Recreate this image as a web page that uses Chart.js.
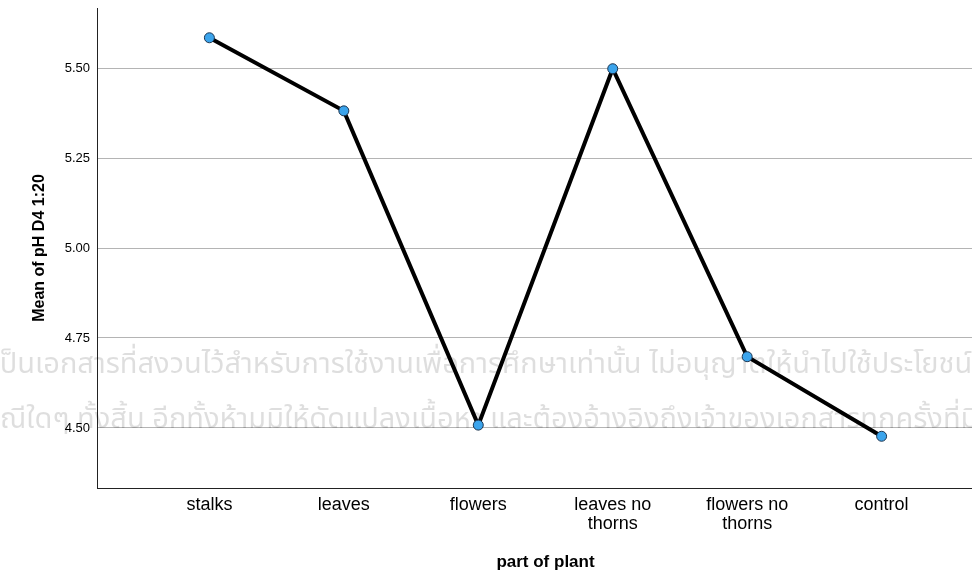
<!DOCTYPE html>
<html>
<head>
<meta charset="utf-8">
<script src="https://cdn.jsdelivr.net/npm/chart.js@4.4.1/dist/chart.umd.min.js"></script>
<style>
  html, body { margin: 0; padding: 0; background: #fff; overflow: hidden; }
  #wrap { width: 1000px; height: 573px; }
</style>
</head>
<body>
<div id="wrap"><canvas id="myChart" width="1000" height="573"></canvas></div>
<script>
// chart values
const categories = [['stalks'], ['leaves'], ['flowers'], ['leaves no', 'thorns'], ['flowers no', 'thorns'], ['control']];
const meanPH = [5.584, 5.381, 4.508, 5.498, 4.698, 4.477];
const yTicks = [4.50, 4.75, 5.00, 5.25, 5.50];
const watermarkLines = [
  'เป็นเอกสารที่สงวนไว้สำหรับการใช้งานเพื่อการศึกษาเท่านั้น ไม่อนุญาตให้นำไปใช้ประโยชน์ในกรณีอื่น',
  'กรณีใดๆ ทั้งสิ้น อีกทั้งห้ามมิให้ดัดแปลงเนื้อหา และต้องอ้างอิงถึงเจ้าของเอกสารทุกครั้งที่มีการนำไปใช้'
];

// faint thai watermark behind the line
const watermark = {
  id: 'watermark',
  beforeDatasetsDraw(chart) {
    const ctx = chart.ctx;
    ctx.save();
    ctx.font = '29px Tahoma, "Noto Sans Thai", "Noto Sans", sans-serif';
    ctx.fillStyle = 'rgba(0,0,0,0.13)';
    ctx.textBaseline = 'alphabetic';
    ctx.textAlign = 'left';
    ctx.fillText(watermarkLines[0], -ctx.measureText('เ').width, 373);
    ctx.fillText(watermarkLines[1], -ctx.measureText('กร').width, 428);
    ctx.restore();
  }
};

const ctx = document.getElementById('myChart').getContext('2d');
const chart = new Chart(ctx, {
  type: 'line',
  data: {
    datasets: [{
      label: 'Mean of pH D4 1:20',
      data: meanPH.map((v, i) => ({ x: i, y: v })),
      borderColor: '#000',
      borderWidth: 4,
      tension: 0,
      pointRadius: 5,
      pointBackgroundColor: '#3ba4ec',
      pointBorderColor: '#1c3550',
      pointBorderWidth: 1,
      fill: false
    }]
  },
  options: {
    responsive: false,
    animation: false,
    layout: { padding: { top: 8, left: 0, right: 0, bottom: 0 } },
    plugins: {
      legend: { display: false },
      tooltip: { enabled: false }
    },
    scales: {
      x: {
        type: 'linear',
        min: -0.836,
        max: 5.836,
        grid: { display: false, drawTicks: false },
        border: { display: true, color: '#222', width: 1 },
        afterBuildTicks: (scale) => {
          scale.ticks = categories.map((c, i) => ({ value: i }));
        },
        afterFit: (scale) => {
          scale.height = 85;
          scale.paddingLeft = 0;
          scale.paddingRight = 0;
        },
        ticks: {
          autoSkip: false,
          maxRotation: 0,
          padding: 8,
          color: '#000',
          font: { family: 'Arial, "Liberation Sans", sans-serif', size: 18, lineHeight: 1.05 },
          callback: (v) => categories[v]
        },
        title: {
          display: true,
          text: 'part of plant',
          color: '#000',
          padding: { top: 1, bottom: 0 },
          font: { family: 'Arial, "Liberation Sans", sans-serif', size: 17, weight: 'bold' }
        }
      },
      y: {
        min: 4.3333,
        max: 5.6667,
        grid: { color: '#b4b4b4', lineWidth: 1, drawTicks: false },
        border: { display: true, color: '#222', width: 1 },
        afterBuildTicks: (scale) => {
          scale.ticks = yTicks.map(v => ({ value: v }));
        },
        afterFit: (scale) => {
          scale.width = 97;
          scale.paddingTop = 0;
          scale.paddingBottom = 0;
        },
        ticks: {
          padding: 7,
          color: '#000',
          font: { family: 'Arial, "Liberation Sans", sans-serif', size: 13 },
          callback: (v) => Number(v).toFixed(2)
        },
        title: {
          display: true,
          text: 'Mean of pH D4 1:20',
          color: '#000',
          padding: { top: 30, bottom: 0 },
          font: { family: 'Arial, "Liberation Sans", sans-serif', size: 16, weight: 'bold' }
        }
      }
    }
  },
  plugins: [watermark]
});
</script>
</body>
</html>
